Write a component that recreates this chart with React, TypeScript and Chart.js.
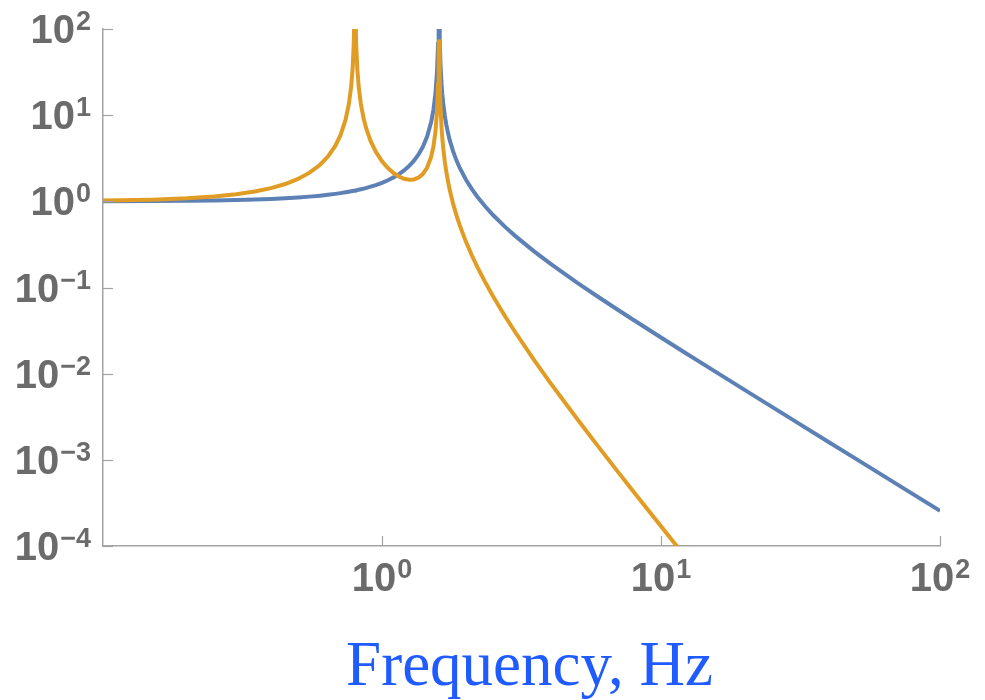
import React, { useEffect, useRef } from "react";
import { Chart, registerables } from "chart.js";

Chart.register(...registerables);

// Frequency samples (Hz)
const FREQ = [
  0.1, 0.15, 0.2, 0.25, 0.3, 0.35, 0.4, 0.45, 0.5, 0.55,
  0.6, 0.64, 0.68, 0.71, 0.74, 0.76, 0.775, 0.785, 0.792, 0.797,
  0.7995, 0.803, 0.808, 0.815, 0.825, 0.84, 0.86, 0.88, 0.91, 0.95,
  1.0, 1.05, 1.1, 1.15, 1.2, 1.25, 1.3, 1.35, 1.4, 1.45,
  1.5, 1.53, 1.555, 1.575, 1.588, 1.596, 1.6035, 1.61, 1.62, 1.635,
  1.645, 1.66, 1.68, 1.7, 1.725, 1.75, 1.8, 1.85, 1.9, 2.0,
  2.1, 2.2, 2.35, 2.5, 2.75, 3, 3.5, 4, 5, 6,
  7, 8, 10, 12, 15, 20, 30, 40, 50, 70,
  100,
];

// Blue series amplitude
const BLUE_AMP = [
  1.0039, 1.0089, 1.0159, 1.025, 1.0364, 1.0503, 1.0667, 1.0859, 1.1082, 1.134,
  1.1636, 1.1905, 1.2204, 1.2452, 1.2721, 1.2914, 1.3065, 1.317, 1.3246, 1.33,
  1.3328, 1.3367, 1.3423, 1.3504, 1.3622, 1.3805, 1.4063, 1.4337, 1.4782, 1.5445,
  1.641, 1.7564, 1.8963, 2.0687, 2.2857, 2.5664, 2.9425, 3.4712, 4.2667, 5.5956,
  8.2581, 11.684, 18.031, 32.25, 66.92, 200.2, 228.3, 79.75, 39.75, 22.61,
  17.53, 13.09, 9.756, 7.758, 6.159, 5.095, 3.765, 2.968, 2.438, 1.778,
  1.384, 1.1228, 0.8641, 0.6938, 0.5117, 0.3975, 0.2642, 0.1905, 0.1141, 0.07656,
  0.05513, 0.04167, 0.02627, 0.0181, 0.01151, 0.006441, 0.002853, 0.001603, 0.001025, 0.0005227,
  0.0002561,
];

// Orange series amplitude
const ORANGE_AMP = [
  1.0199, 1.0456, 1.0836, 1.136, 1.206, 1.2989, 1.4222, 1.5885, 1.8186, 2.1504,
  2.6598, 3.3069, 4.398, 5.8641, 8.8111, 13.245, 21.237, 35.45, 66.56, 177.7,
  1066, 177.9, 66.78, 35.68, 21.46, 13.47, 9.036, 6.827, 5.029, 3.766,
  2.917, 2.4305, 2.1292, 1.9399, 1.8286, 1.7805, 1.7935, 1.8787, 2.0687, 2.4487,
  3.2826, 4.3964, 6.49, 11.21, 22.76, 67.19, 75.66, 26.15, 12.82, 7.117,
  5.431, 3.959, 2.861, 2.207, 1.688, 1.346, 0.9267, 0.6827, 0.5254, 0.3386,
  0.2349, 0.1711, 0.1133, 0.07915, 0.04731, 0.03043, 0.01456, 0.007937, 0.002997, 0.001386,
  0.0007295, 0.0004209, 0.0001692, 0.0000808, 0.00003283, 0.00001032, 0.00000203, 6.41e-7, 2.63e-7, 6.83e-8,
  1.64e-8,
];

const X_TICKS = [1, 10, 100];
const X_TICK_EXP = ["0", "1", "2"];
const Y_TICKS = [100, 10, 1, 0.1, 0.01, 0.001, 0.0001];
const Y_TICK_EXP = ["2", "1", "0", "\u22121", "\u22122", "\u22123", "\u22124"];
const X_TITLE = "Frequency, Hz";

const AXIS_COLOR = "#a3a3a3";
const LABEL_COLOR = "#6b6b6b";
const TITLE_COLOR = "#1f5bff";
const BASE_FONT = "bold 40px 'Liberation Sans', Arial, sans-serif";
const SUP_FONT = "bold 27px 'Liberation Sans', Arial, sans-serif";

function drawPower(ctx: CanvasRenderingContext2D, exp: string, x: number, baseline: number, align: "center" | "right") {
  ctx.font = BASE_FONT;
  const wBase = ctx.measureText("10").width;
  ctx.font = SUP_FONT;
  const wSup = ctx.measureText(exp).width;
  const gap = 1;
  const total = wBase + gap + wSup;
  const left = align === "center" ? x - total / 2 : x - total;
  ctx.textAlign = "left";
  ctx.textBaseline = "alphabetic";
  ctx.fillStyle = LABEL_COLOR;
  ctx.font = BASE_FONT;
  ctx.fillText("10", left, baseline);
  ctx.font = SUP_FONT;
  ctx.fillText(exp, left + wBase + gap, baseline - 13);
}

const axesPlugin = {
  id: "mmaAxes",
  afterDraw(chart: any) {
    const ctx: CanvasRenderingContext2D = chart.ctx;
    const xs = chart.scales.x;
    const ys = chart.scales.y;
    const area = chart.chartArea;
    ctx.save();
    ctx.strokeStyle = AXIS_COLOR;
    ctx.lineWidth = 1.2;
    X_TICKS.forEach((v) => {
      const px = Math.round(xs.getPixelForValue(v)) + 0.5;
      ctx.beginPath();
      ctx.moveTo(px, area.bottom);
      ctx.lineTo(px, area.bottom - 10);
      ctx.stroke();
    });
    Y_TICKS.forEach((v) => {
      const py = Math.round(ys.getPixelForValue(v)) + 0.5;
      ctx.beginPath();
      ctx.moveTo(area.left, py);
      ctx.lineTo(area.left + 10, py);
      ctx.stroke();
    });
    X_TICKS.forEach((v, i) => {
      const px = xs.getPixelForValue(v);
      drawPower(ctx, X_TICK_EXP[i], px, area.bottom + 45, "center");
    });
    Y_TICKS.forEach((v, i) => {
      const py = ys.getPixelForValue(v);
      drawPower(ctx, Y_TICK_EXP[i], area.left - 12, py + 14, "right");
    });
    ctx.font = "63px 'Liberation Serif', 'Times New Roman', serif";
    ctx.fillStyle = TITLE_COLOR;
    ctx.textAlign = "center";
    ctx.textBaseline = "alphabetic";
    ctx.fillText(X_TITLE, (area.left + area.right) / 2 + 8, 685);
    ctx.restore();
  },
};

export default function App() {
  const canvasRef = useRef<HTMLCanvasElement | null>(null);

  useEffect(() => {
    const canvas = canvasRef.current;
    if (!canvas) return;
    const blue = FREQ.map((f, i) => ({ x: f, y: BLUE_AMP[i] }));
    const orange = FREQ.map((f, i) => ({ x: f, y: ORANGE_AMP[i] }));
    const chart = new Chart(canvas, {
      type: "line",
      data: {
        datasets: [
          {
            label: "blue",
            data: blue,
            borderColor: "#5e81b5",
            borderWidth: 4,
            pointRadius: 0,
            tension: 0,
            fill: false,
            order: 1,
          },
          {
            label: "orange",
            data: orange,
            borderColor: "#e19c24",
            borderWidth: 4,
            pointRadius: 0,
            tension: 0,
            fill: false,
            order: 0,
          },
        ],
      },
      options: {
        animation: false,
        responsive: false,
        maintainAspectRatio: false,
        layout: { padding: { top: 29, right: 45, left: 0, bottom: 0 } },
        plugins: { legend: { display: false }, tooltip: { enabled: false } },
        scales: {
          x: {
            type: "logarithmic",
            min: 0.1,
            max: 100,
            grid: { display: false },
            border: { display: true, color: AXIS_COLOR, width: 1.5 },
            ticks: { display: false },
            afterFit: (scale: any) => {
              scale.height = 154;
            },
          },
          y: {
            type: "logarithmic",
            min: 0.0001,
            max: 100,
            grid: { display: false },
            border: { display: true, color: AXIS_COLOR, width: 1.5 },
            ticks: { display: false },
            afterFit: (scale: any) => {
              scale.width = 103;
            },
          },
        },
      },
      plugins: [axesPlugin],
    });
    return () => chart.destroy();
  }, []);

  return (
    <div style={{ position: "absolute", left: 0, top: 0, width: 985, height: 700, background: "#fff" }}>
      <canvas ref={canvasRef} width={985} height={700} style={{ display: "block" }} />
    </div>
  );
}
